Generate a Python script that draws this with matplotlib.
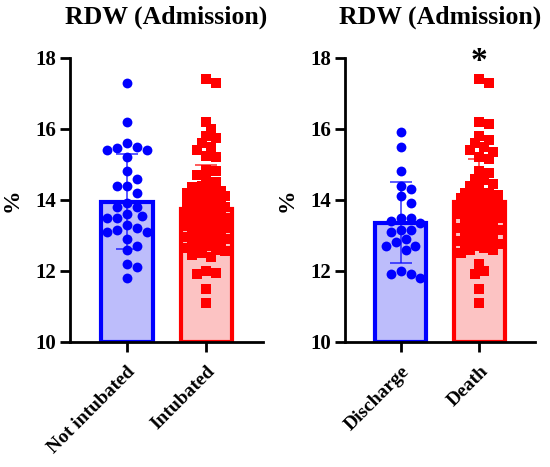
import numpy as np
import matplotlib
matplotlib.use('Agg')
import matplotlib.pyplot as plt

plt.rcParams['font.family'] = ['Liberation Serif', 'DejaVu Serif']
plt.rcParams['font.weight'] = 'bold'

# panel 1: intubation, panel 2: outcome
title = 'RDW (Admission)'
labels_1 = ['Not intubated', 'Intubated']
labels_2 = ['Discharge', 'Death']
means_1 = [13.95, 13.75]
sds_1 = [1.33, 1.24]
means_2 = [13.36, 13.95]
sds_2 = [1.13, 1.2]

not_intubated = [17.3, 16.2, 15.6, 15.5, 15.45, 15.4, 15.4, 15.2, 14.8, 14.6,
                 14.4, 14.4, 14.2, 13.9, 13.8, 13.8, 13.6, 13.55, 13.5, 13.5,
                 13.3, 13.2, 13.15, 13.1, 13.1, 12.9, 12.7, 12.6, 12.2, 12.1, 11.8]
intubated = [17.4, 17.3, 16.2, 16.0, 15.8, 15.75, 15.6, 15.5, 15.4, 15.25,
             15.2, 14.85, 14.8, 14.7, 14.6, 14.5, 14.4, 14.35, 14.3, 14.25,
             14.2, 14.2, 14.15, 14.1, 14.1, 14.05, 14.0, 14.0, 13.95, 13.9,
             13.9, 13.85, 13.8, 13.8, 13.75, 13.7, 13.7, 13.65, 13.6, 13.6,
             13.55, 13.5, 13.5, 13.45, 13.4, 13.4, 13.35, 13.3, 13.3, 13.25,
             13.2, 13.2, 13.15, 13.1, 13.1, 13.05, 13.0, 13.0, 12.95, 12.9,
             12.9, 12.85, 12.8, 12.8, 12.75, 12.7, 12.7, 12.65, 12.6, 12.55,
             12.5, 12.45, 12.4, 12.0, 11.95, 11.9, 11.5, 11.1]
discharge = [15.9, 15.5, 14.8, 14.4, 14.3, 14.1, 13.9, 13.5, 13.5, 13.4, 13.35,
             13.15, 13.15, 13.1, 12.9, 12.8, 12.7, 12.7, 12.6, 12.0, 11.9, 11.9, 11.8]
death = [17.4, 17.3, 16.2, 16.15, 15.8, 15.7, 15.6, 15.5, 15.4, 15.35, 15.2,
         15.15, 14.8, 14.75, 14.6, 14.55, 14.45, 14.4, 14.3, 14.2, 14.2, 14.15,
         14.1, 14.1, 14.05, 14.0, 14.0, 13.95, 13.9, 13.9, 13.85, 13.8, 13.8,
         13.75, 13.7, 13.65, 13.6, 13.6, 13.55, 13.5, 13.45, 13.4, 13.4, 13.35,
         13.3, 13.25, 13.2, 13.2, 13.15, 13.1, 13.05, 13.0, 12.95, 12.9, 12.9,
         12.85, 12.8, 12.75, 12.7, 12.7, 12.65, 12.6, 12.6, 12.5, 12.2, 12.0,
         11.9, 11.5, 11.1]

BLUE = '#0000ff'
RED = '#ff0000'
PX_X = 80.0   # pixels per x unit
PX_Y = 35.5   # pixels per y unit


def swarm(values, d, half, overlap):
    # simple beeswarm: offsets in x units
    placed = []
    offs = []
    step = d * 0.5
    cands = [0.0]
    k = 1
    while k * step <= half:
        cands += [k * step, -k * step]
        k += 1
    for v in values:
        py = v * PX_Y
        best, best_dist = 0.0, -1
        for c in cands:
            md = min([np.hypot(c - px, py - qy) for px, qy in placed] + [1e9])
            if md >= d * overlap:
                best = c
                break
            if md > best_dist:
                best, best_dist = c, md
        placed.append((best, py))
        offs.append(best / PX_X)
    return np.array(offs)


def panel(ax, groups, means, sds, labels):
    colors = [BLUE, RED]
    faces = ['#bdbdfb', '#fcc3c3']
    for i in range(2):
        ax.bar(i, means[i] - 10, bottom=10, width=0.65, color=faces[i],
               edgecolor=colors[i], linewidth=3, zorder=1)
        vals = np.array(groups[i])
        if i == 0:
            off = swarm(vals, 10, 23, 1.0)
            ax.scatter(i + off, vals, s=50, marker='o', color=colors[i],
                       linewidths=0, zorder=3, clip_on=False)
        else:
            off = swarm(vals, 9.5, 22, 0.85)
            ax.scatter(i + off, vals, s=52, marker='s', color=colors[i],
                       linewidths=0, zorder=3, clip_on=False)
        ax.errorbar(i, means[i], yerr=sds[i], color=colors[i], capsize=8,
                    elinewidth=1.2, capthick=1.2, zorder=4, alpha=0.75)
    ax.set_xlim(-0.71, 1.71)
    ax.set_ylim(10, 18)
    ax.set_yticks([10, 12, 14, 16, 18])
    ax.set_xticks([0, 1])
    ax.set_xticklabels(labels, rotation=45, ha='right', rotation_mode='anchor',
                       fontsize=14, fontweight='bold')
    for t in ax.get_yticklabels():
        t.set_fontsize(15)
        t.set_fontweight('bold')
    ax.spines['top'].set_visible(False)
    ax.spines['right'].set_visible(False)
    ax.spines['left'].set_linewidth(2)
    ax.spines['bottom'].set_linewidth(2)
    ax.tick_params(width=2, length=7, pad=3)
    ax.tick_params(axis='x', pad=8)
    ax.set_ylabel('%', fontsize=17, fontweight='bold', labelpad=9)
    ax.set_title(title, fontsize=18.5, fontweight='bold', pad=25)


fig = plt.figure(figsize=(5.5, 4.67), dpi=100)
ax1 = fig.add_axes([0.1273, 0.268, 0.351, 0.608])
ax2 = fig.add_axes([0.627, 0.268, 0.346, 0.608])
panel(ax1, [not_intubated, intubated], means_1, sds_1, labels_1)
panel(ax2, [discharge, death], means_2, sds_2, labels_2)
ax2.text(1, 17.45, '*', ha='center', va='bottom', fontsize=24,
         fontweight='bold', zorder=5)

fig.savefig('out.png', dpi=100)
